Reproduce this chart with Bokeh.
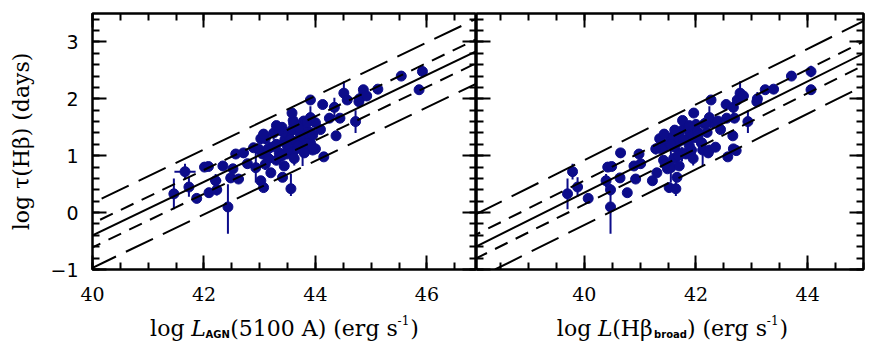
from bokeh.plotting import figure
from bokeh.layouts import row, column
from bokeh.models import (ColumnDataSource, LinearAxis, SingleIntervalTicker,
                          Slope, Label, Range1d, CustomJSTickFormatter)
from bokeh.embed import file_html
from bokeh.resources import INLINE

# ---------------- data ----------------
log_tau = [0.33, 0.72, 0.45, 0.25, 0.80, 0.81, 0.35, 0.56, 0.40, 0.82,
           0.10, 0.61, 0.77, 1.03, 0.59, 1.05, 0.86, 1.14, 0.79, 0.56,
           0.44, 1.03, 0.95, 0.62, 0.82, 0.42, 1.03, 1.10, 1.10, 0.98,
           1.09, 1.98, 1.90, 1.85, 2.10, 1.98, 1.66, 2.00, 2.16, 2.05,
           1.95, 2.17, 1.60, 1.35, 2.40, 2.48, 2.16, 1.46, 1.41, 1.58,
           1.67, 1.61, 1.23, 1.56, 1.66, 1.12, 1.30, 1.15, 1.40, 1.20,
           1.05, 1.50, 1.28, 1.10, 1.35, 1.45, 1.25, 1.55, 1.18, 1.40,
           1.32, 1.48, 1.22, 1.38, 1.62, 1.00, 0.92, 1.12, 1.28, 1.42,
           1.50, 1.36, 1.20, 0.95, 1.05, 1.75, 1.30, 0.85, 1.58, 1.45,
           1.15, 0.70, 1.38, 1.12, 1.53]
tau_err_lo = [0.27, 0.14, 0.17, 0.08, 0.05, 0.05, 0.06, 0.12, 0.10, 0.05,
              0.47, 0.06, 0.06, 0.08, 0.06, 0.08, 0.08, 0.06, 0.26, 0.06,
              0.08, 0.08, 0.06, 0.06, 0.06, 0.13, 0.06, 0.28, 0.06, 0.06,
              0.08, 0.06, 0.06, 0.17, 0.10, 0.06, 0.06, 0.12, 0.06, 0.06,
              0.06, 0.06, 0.20, 0.06, 0.06, 0.10, 0.06, 0.06, 0.06, 0.06,
              0.06, 0.06, 0.06, 0.06, 0.08, 0.06, 0.10, 0.08, 0.12, 0.06,
              0.15, 0.08, 0.06, 0.10, 0.06, 0.12, 0.08, 0.06, 0.10, 0.06,
              0.08, 0.06, 0.14, 0.06, 0.06, 0.10, 0.08, 0.06, 0.06, 0.10,
              0.06, 0.08, 0.06, 0.12, 0.06, 0.06, 0.08, 0.10, 0.06, 0.06,
              0.08, 0.06, 0.06, 0.10, 0.06]
tau_err_hi = [0.27, 0.14, 0.17, 0.08, 0.05, 0.05, 0.06, 0.12, 0.10, 0.05,
              0.40, 0.06, 0.06, 0.08, 0.06, 0.06, 0.08, 0.06, 0.40, 0.06,
              0.08, 0.08, 0.06, 0.06, 0.06, 0.26, 0.06, 0.06, 0.06, 0.06,
              0.08, 0.06, 0.06, 0.17, 0.21, 0.06, 0.06, 0.12, 0.06, 0.06,
              0.06, 0.06, 0.20, 0.06, 0.06, 0.10, 0.06, 0.06, 0.06, 0.06,
              0.20, 0.06, 0.06, 0.06, 0.08, 0.06, 0.10, 0.08, 0.12, 0.06,
              0.10, 0.08, 0.06, 0.10, 0.06, 0.12, 0.08, 0.06, 0.10, 0.06,
              0.08, 0.06, 0.10, 0.06, 0.06, 0.10, 0.08, 0.06, 0.06, 0.10,
              0.06, 0.08, 0.06, 0.12, 0.06, 0.06, 0.08, 0.10, 0.06, 0.06,
              0.08, 0.06, 0.06, 0.10, 0.06]
log_L5100 = [41.46, 41.66, 41.73, 41.87, 42.01, 42.08, 42.09, 42.21, 42.23, 42.34,
             42.43, 42.48, 42.52, 42.57, 42.62, 42.71, 42.78, 42.89, 42.93, 43.02,
             43.07, 43.05, 43.16, 43.41, 43.44, 43.56, 43.49, 43.77, 43.95, 44.15,
             43.62, 43.91, 44.13, 44.34, 44.51, 44.57, 44.44, 44.79, 44.86, 44.92,
             44.78, 45.12, 44.72, 44.37, 45.54, 45.92, 45.86, 44.09, 43.91, 44.00,
             43.91, 43.79, 43.91, 43.61, 44.25, 44.00, 43.10, 43.20, 43.25, 43.30,
             43.35, 43.40, 43.45, 43.50, 43.52, 43.58, 43.62, 43.65, 43.70, 43.72,
             43.78, 43.82, 43.85, 43.88, 43.60, 43.40, 43.30, 43.15, 43.55, 43.42,
             43.70, 43.95, 43.48, 43.62, 43.80, 43.58, 43.02, 43.10, 43.85, 43.35,
             43.95, 43.20, 43.07, 42.98, 43.30]
L5100_err = [0.00, 0.19, 0.00, 0.00, 0.00, 0.00, 0.00, 0.10, 0.08, 0.00,
             0.00, 0.00, 0.00, 0.00, 0.00, 0.00, 0.00, 0.00, 0.00, 0.00,
             0.00, 0.00, 0.00, 0.00, 0.00, 0.00, 0.00, 0.00, 0.00, 0.00,
             0.00, 0.00, 0.00, 0.00, 0.00, 0.00, 0.00, 0.00, 0.00, 0.00,
             0.00, 0.00, 0.00, 0.00, 0.00, 0.00, 0.00, 0.00, 0.00, 0.00,
             0.00, 0.00, 0.00, 0.00, 0.00, 0.00, 0.00, 0.00, 0.00, 0.00,
             0.00, 0.00, 0.00, 0.00, 0.00, 0.00, 0.00, 0.00, 0.00, 0.00,
             0.00, 0.00, 0.00, 0.00, 0.00, 0.00, 0.00, 0.00, 0.00, 0.00,
             0.00, 0.00, 0.00, 0.00, 0.00, 0.00, 0.00, 0.00, 0.00, 0.00,
             0.00, 0.00, 0.00, 0.00, 0.00]
log_LHb = [39.70, 39.79, 39.88, 40.07, 40.42, 40.49, 40.77, 40.39, 40.47, 40.89,
           40.47, 40.64, 41.49, 40.98, 40.92, 40.65, 41.01, 41.42, 41.55, 41.22,
           41.52, 41.82, 41.60, 41.66, 41.70, 41.64, 41.90, 42.12, 42.24, 42.57,
           42.72, 42.27, 42.54, 42.67, 42.79, 42.74, 42.55, 43.10, 43.24, 42.85,
           43.09, 43.39, 42.93, 42.66, 43.71, 44.06, 44.06, 42.44, 42.20, 42.28,
           42.24, 42.39, 42.10, 42.15, 42.69, 42.67, 41.55, 41.62, 41.70, 41.48,
           41.75, 41.80, 41.85, 41.92, 41.60, 41.95, 41.70, 42.00, 41.88, 42.05,
           41.98, 41.82, 42.10, 41.90, 41.76, 41.68, 41.42, 41.38, 41.78, 42.02,
           41.86, 42.04, 41.55, 41.95, 42.22, 41.96, 41.35, 41.45, 42.18, 41.62,
           42.35, 41.30, 41.43, 41.28, 41.88]

# fitted relations: log tau = norm + slope*(logL - pivot); dashed offsets
fit_L5100 = {"pivot": 44.0, "norm": 1.48, "slope": 0.47}
fit_LHb = {"pivot": 42.0, "norm": 1.33, "slope": 0.489}
short_dash_offset = 0.21
long_dash_offset = 0.57

xrange_L5100 = (40.0, 46.89)
xrange_LHb = (38.07, 45.0)
yrange = (-1.0, 3.5)

# axis titles (pieces: text, style)
xtitle_left = [("log ", "main"), ("L", "italic"), ("AGN", "sub"),
               ("(5100 A) (erg s", "main"), ("-1", "sup"), (")", "main")]
xtitle_right = [("log ", "main"), ("L", "italic"), ("(Hβ", "main"), ("broad", "sub"),
                (") (erg s", "main"), ("-1", "sup"), (")", "main")]
ytitle = "log τ(Hβ) (days)"

NAVY = "#0c0c8a"
SERIF = "DejaVu Serif"


def style_axis(ax, show_labels, font, size="19px"):
    ax.axis_line_color = None
    ax.major_tick_in = 14
    ax.major_tick_out = 0
    ax.minor_tick_in = 7
    ax.minor_tick_out = 0
    ax.major_tick_line_width = 2
    ax.minor_tick_line_width = 2
    ax.major_tick_line_color = "black"
    ax.minor_tick_line_color = "black"
    ax.axis_label_standoff = 0
    if show_labels:
        ax.major_label_text_font = font
        ax.major_label_text_font_size = size
        ax.major_label_text_color = "black"
    else:
        ax.formatter = CustomJSTickFormatter(code="return ''")
        ax.major_label_standoff = 0


def make_panel(xr, frame_w, bl, br, xvals, xerr, fit, left_labels):
    p = figure(x_range=Range1d(*xr), y_range=Range1d(*yrange),
               frame_width=frame_w, frame_height=256,
               min_border_left=bl, min_border_right=br,
               min_border_top=13, min_border_bottom=41,
               toolbar_location=None, output_backend="svg",
               x_axis_location=None, y_axis_location=None)
    p.grid.grid_line_color = None
    p.outline_line_color = "black"
    p.outline_line_width = 2.5
    p.background_fill_color = "white"
    p.border_fill_color = "white"

    xt = lambda: SingleIntervalTicker(interval=2, num_minor_ticks=4)
    yt = lambda: SingleIntervalTicker(interval=1, num_minor_ticks=5)

    bx = LinearAxis(ticker=xt())
    style_axis(bx, True, SERIF, "19px")
    bx.major_label_standoff = 17
    p.add_layout(bx, "below")
    tx = LinearAxis(ticker=xt())
    style_axis(tx, False, SERIF)
    p.add_layout(tx, "above")

    ly = LinearAxis(ticker=yt())
    style_axis(ly, left_labels, "DejaVu Sans", "19px")
    if left_labels:
        ly.major_label_standoff = 14
        ly.axis_label = ytitle
        ly.axis_label_text_font = SERIF
        ly.axis_label_text_font_size = "22px"
        ly.axis_label_text_font_style = "normal"
        ly.axis_label_text_color = "black"
        ly.axis_label_standoff = 13
    p.add_layout(ly, "left")
    ry = LinearAxis(ticker=yt())
    style_axis(ry, False, SERIF)
    p.add_layout(ry, "right")

    # relation and scatter bands
    b = fit["slope"]
    a0 = fit["norm"] - b * fit["pivot"]
    p.add_layout(Slope(gradient=b, y_intercept=a0, line_color="black", line_width=2))
    for off, dash in ((short_dash_offset, "14 9"), (-short_dash_offset, "14 9"),
                      (long_dash_offset, "30 11"), (-long_dash_offset, "30 11")):
        p.add_layout(Slope(gradient=b, y_intercept=a0 + off, line_color="black",
                           line_width=2, line_dash=dash))

    src = ColumnDataSource(dict(
        x=xvals, y=log_tau,
        ylo=[y - e for y, e in zip(log_tau, tau_err_lo)],
        yhi=[y + e for y, e in zip(log_tau, tau_err_hi)],
        xlo=[x - e for x, e in zip(xvals, xerr)],
        xhi=[x + e for x, e in zip(xvals, xerr)],
    ))
    p.segment(x0="x", y0="ylo", x1="x", y1="yhi", source=src,
              line_color=NAVY, line_width=2)
    p.segment(x0="xlo", y0="y", x1="xhi", y1="y", source=src,
              line_color=NAVY, line_width=2)
    p.scatter(x="x", y="y", source=src, marker="circle", size=10,
              fill_color=NAVY, line_color=NAVY)
    return p


zero_err = [0.0] * len(log_tau)

left = make_panel(xrange_L5100, 384, 92, 0, log_L5100, L5100_err, fit_L5100, True)
right = make_panel(xrange_LHb, 387, 0, 7, log_LHb, zero_err, fit_LHb, False)

# ---- strip below the panels that carries the two x-axis titles ----
STRIP_H = 35
strip = figure(width=870, height=STRIP_H, x_range=Range1d(0, 870),
               y_range=Range1d(0, STRIP_H), min_border=0, toolbar_location=None,
               output_backend="svg", x_axis_location=None, y_axis_location=None)
strip.grid.grid_line_color = None
strip.outline_line_color = None

MAIN = 22
STYLE = {
    "main": dict(dy=17, px=MAIN, fstyle="normal", font=SERIF),
    "italic": dict(dy=17, px=MAIN, fstyle="italic", font=SERIF),
    "sub": dict(dy=11, px=10, fstyle="bold", font="DejaVu Sans"),
    "sup": dict(dy=26, px=12, fstyle="normal", font=SERIF),
}
# approximate advance widths (em) to lay the pieces side by side
ADV = {"l": .32, "o": .602, "g": .635, " ": .318, "L": .64, "(": .39, ")": .39,
       "5": .636, "1": .636, "0": .636, "A": .722, "e": .592, "r": .478, "s": .513,
       "H": .872, "β": .64, "-": .338, "G": .821, "N": .837, "b": .716, "a": .675,
       "d": .716}


def width(txt, st):
    s = STYLE[st]
    return sum(ADV.get(c, .6) for c in txt) * s["px"] + (1 if st in ("sub", "sup") else 0)


for pieces, center in ((xtitle_left, 284), (xtitle_right, 672)):
    total = sum(width(t, st) for t, st in pieces)
    xp = center - total / 2
    for txt, st in pieces:
        s = STYLE[st]
        strip.add_layout(Label(x=xp, y=s["dy"], text=txt, text_font=s["font"],
                               text_font_size=f"{s['px']}px", text_font_style=s["fstyle"],
                               text_color="black", text_baseline="alphabetic",
                               text_align="left"))
        xp += width(txt, st)

p = column(row(left, right, spacing=0), strip, spacing=0)
open("out.html", "w").write(file_html(p, INLINE))
